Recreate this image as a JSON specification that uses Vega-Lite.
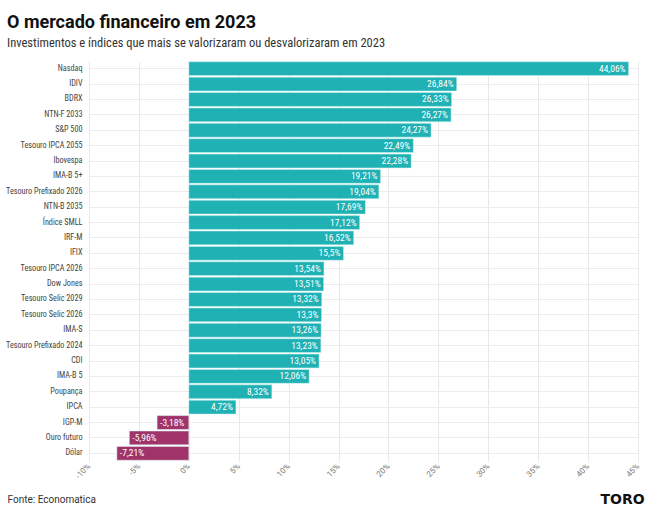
{
  "$schema": "https://vega.github.io/schema/vega-lite/v6.json",
  "autosize": "none",
  "width": 549,
  "height": 400,
  "padding": {"left": 89, "top": 61, "right": 13, "bottom": 54},
  "background": "white",
  "title": {
    "text": "O mercado financeiro em 2023",
    "subtitle": "Investimentos e índices que mais se valorizaram ou desvalorizaram em 2023",
    "anchor": "start",
    "frame": "group",
    "dx": -82,
    "offset": 12,
    "font": "Roboto",
    "fontSize": 18,
    "fontWeight": "bold",
    "color": "#111111",
    "subtitleFont": "Roboto Condensed, Roboto",
    "subtitleFontSize": 12.5,
    "subtitleColor": "#333333",
    "subtitlePadding": 5
  },
  "data": {
    "values": [
      {"ativo": "Nasdaq", "v": 44.06, "label": "44,06%"},
      {"ativo": "IDIV", "v": 26.84, "label": "26,84%"},
      {"ativo": "BDRX", "v": 26.33, "label": "26,33%"},
      {"ativo": "NTN-F 2033", "v": 26.27, "label": "26,27%"},
      {"ativo": "S&P 500", "v": 24.27, "label": "24,27%"},
      {"ativo": "Tesouro IPCA 2055", "v": 22.49, "label": "22,49%"},
      {"ativo": "Ibovespa", "v": 22.28, "label": "22,28%"},
      {"ativo": "IMA-B 5+", "v": 19.21, "label": "19,21%"},
      {"ativo": "Tesouro Prefixado 2026", "v": 19.04, "label": "19,04%"},
      {"ativo": "NTN-B 2035", "v": 17.69, "label": "17,69%"},
      {"ativo": "Índice SMLL", "v": 17.12, "label": "17,12%"},
      {"ativo": "IRF-M", "v": 16.52, "label": "16,52%"},
      {"ativo": "IFIX", "v": 15.5, "label": "15,5%"},
      {"ativo": "Tesouro IPCA 2026", "v": 13.54, "label": "13,54%"},
      {"ativo": "Dow Jones", "v": 13.51, "label": "13,51%"},
      {"ativo": "Tesouro Selic 2029", "v": 13.32, "label": "13,32%"},
      {"ativo": "Tesouro Selic 2026", "v": 13.3, "label": "13,3%"},
      {"ativo": "IMA-S", "v": 13.26, "label": "13,26%"},
      {"ativo": "Tesouro Prefixado 2024", "v": 13.23, "label": "13,23%"},
      {"ativo": "CDI", "v": 13.05, "label": "13,05%"},
      {"ativo": "IMA-B 5", "v": 12.06, "label": "12,06%"},
      {"ativo": "Poupança", "v": 8.32, "label": "8,32%"},
      {"ativo": "IPCA", "v": 4.72, "label": "4,72%"},
      {"ativo": "IGP-M", "v": -3.18, "label": "-3,18%"},
      {"ativo": "Ouro futuro", "v": -5.96, "label": "-5,96%"},
      {"ativo": "Dólar", "v": -7.21, "label": "-7,21%"}
    ]
  },
  "encoding": {
    "y": {
      "field": "ativo",
      "type": "nominal",
      "sort": null,
      "scale": {"paddingInner": 0.1, "paddingOuter": 0.05},
      "axis": {
        "title": "TORO",
        "titleAngle": 0,
        "titleX": 511,
        "titleY": 442,
        "titleAlign": "left",
        "titleBaseline": "alphabetic",
        "titleFont": "DejaVu Sans",
        "titleFontSize": 14,
        "titleFontWeight": "bold",
        "titleColor": "#111111",
        "labelFont": "Roboto Condensed, Roboto",
        "labelFontSize": 8.2,
        "labelColor": "#444444",
        "labelPadding": 7,
        "ticks": false,
        "domain": false,
        "grid": true,
        "gridColor": "#ececec",
        "bandPosition": 0.5
      }
    }
  },
  "layer": [
    {
      "mark": {"type": "bar", "stroke": "#d8f4f4", "strokeWidth": 0.5},
      "encoding": {
        "x": {
          "field": "v",
          "type": "quantitative",
          "scale": {"domain": [-10, 45], "nice": false},
          "axis": {
            "values": [-10, -5, 0, 5, 10, 15, 20, 25, 30, 35, 40, 45],
            "labelExpr": "datum.value + '%'",
            "labelAngle": -45,
            "labelAlign": "right",
            "labelBaseline": "middle",
            "labelFont": "Roboto",
            "labelFontSize": 8,
            "labelColor": "#777777",
            "labelPadding": 4,
            "ticks": false,
            "domain": false,
            "grid": true,
            "gridColor": "#e8e8e8",
            "title": "Fonte: Economatica",
            "titleAnchor": "start",
            "titleAlign": "left",
            "titleX": -82,
            "titleY": 41,
            "titleBaseline": "alphabetic",
            "titleFont": "Roboto",
            "titleFontSize": 10,
            "titleFontWeight": "normal",
            "titleColor": "#333333"
          }
        },
        "color": {
          "condition": {"test": "datum.v < 0", "value": "#a0336a"},
          "value": "#1fb1b4"
        }
      }
    },
    {
      "transform": [{"filter": "datum.v >= 0"}],
      "mark": {"type": "text", "align": "right", "dx": -3, "color": "white", "font": "Roboto Condensed, Roboto", "fontSize": 9.5},
      "encoding": {
        "x": {"field": "v", "type": "quantitative"},
        "text": {"field": "label"}
      }
    },
    {
      "transform": [{"filter": "datum.v < 0"}],
      "mark": {"type": "text", "align": "left", "dx": 3, "color": "white", "font": "Roboto Condensed, Roboto", "fontSize": 9.5},
      "encoding": {
        "x": {"field": "v", "type": "quantitative"},
        "text": {"field": "label"}
      }
    }
  ],
  "config": {"view": {"stroke": null}}
}
